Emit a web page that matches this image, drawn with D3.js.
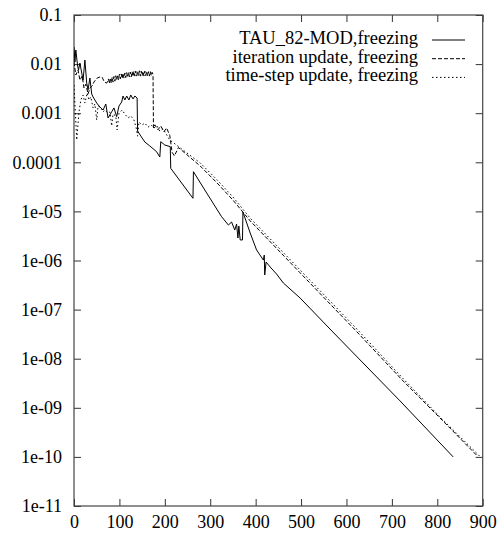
<!DOCTYPE html>
<html>
<head>
<meta charset="utf-8">
<script src="https://cdn.jsdelivr.net/npm/d3@7"></script>
<style>
  body { margin: 0; background: #fff; }
  text { font-family: "Liberation Serif", "Times New Roman", serif; }
</style>
</head>
<body>
<div id="chart"></div>
<script>
// residual history, [iteration, residual]
var tauMod = [
    [0, 0.0223], [2, 0.011], [4, 0.0194], [8, 0.0091], [10, 0.0076], [13, 0.0105],
    [20, 0.0047], [24, 0.0121], [28, 0.0041], [31, 0.0030], [35, 0.0052], [39, 0.00246],
    [42, 0.00214], [50, 0.00161], [57, 0.00134], [64, 0.00116], [70, 0.00154], [75, 0.0008],
    [83, 0.00107], [88, 0.00128], [94, 0.00085], [99, 0.0014], [105, 0.00169], [108, 0.00224],
    [112, 0.00186], [116, 0.00224], [121, 0.00186], [125, 0.00235], [130, 0.00195], [134, 0.00224],
    [139, 0.00204], [140, 0.000434], [147, 0.000344], [156, 0.000259], [167, 0.000215],
    [182, 0.000164], [189, 0.000128], [191, 0.000263], [200, 0.000225], [212, 0.000208],
    [213, 7.55e-5], [262, 1.85e-5], [263, 6.44e-5], [288, 2.73e-5], [325, 7.8e-6],
    [340, 5.28e-6], [347, 6.08e-6], [354, 4.18e-6], [358, 5.53e-6], [361, 2.87e-6],
    [363, 5.04e-6], [366, 2.62e-6], [371, 2.62e-6], [372, 9.7e-6], [388, 3.63e-6],
    [402, 1.64e-6], [417, 1.02e-6], [419, 1.29e-6], [420, 5.07e-7], [423, 9.3e-7],
    [432, 7.37e-7], [446, 5.31e-7], [461, 3.48e-7], [498, 1.72e-7], [568, 3.66e-8],
    [718, 1.38e-9], [835, 1.0e-10]
];

var iterUpdate = [
    [0, 0.011], [4, 0.006], [9, 0.0076], [13, 0.0047], [18, 0.0057], [22, 0.00326],
    [26, 0.0039], [31, 0.00246], [35, 0.00326], [40, 0.00358], [44, 0.00432], [51, 0.0052],
    [57, 0.00546], [62, 0.0054], [67, 0.0043], [72, 0.0041], [75, 0.0047],
    [76, 0.0050], [78, 0.0040], [80, 0.0052], [82, 0.0041], [84, 0.0054], [86, 0.0043],
    [88, 0.0056], [90, 0.0045], [92, 0.0058], [94, 0.0047], [96, 0.0060], [98, 0.0048],
    [100, 0.0062], [102, 0.0050], [104, 0.0063], [106, 0.0051], [108, 0.0065], [110, 0.0052],
    [112, 0.0066], [114, 0.0053], [116, 0.0067], [118, 0.0054], [120, 0.0068], [122, 0.0055],
    [124, 0.0069], [126, 0.0055], [128, 0.0070], [130, 0.0056], [132, 0.0071], [134, 0.0057],
    [136, 0.0072], [138, 0.0057], [140, 0.0071], [142, 0.0058], [144, 0.0073], [146, 0.0057],
    [148, 0.0072], [150, 0.0058], [152, 0.0071], [154, 0.0057], [156, 0.0072], [158, 0.0058],
    [160, 0.0071], [162, 0.0057], [164, 0.0070], [166, 0.0057], [168, 0.0071], [170, 0.0058],
    [172, 0.0068], [174, 0.0062],
    [175, 0.0005], [178, 0.00058], [185, 0.00046], [191, 0.00055], [198, 0.00042],
    [204, 0.0005], [211, 0.00035], [216, 0.00016], [221, 0.000135], [230, 0.0002],
    [244, 0.000155], [278, 8.4e-5], [315, 3.8e-5], [350, 1.7e-5], [388, 6.4e-6],
    [498, 5.6e-7], [619, 3.85e-8], [725, 3.5e-9], [806, 6.2e-10], [888, 1.05e-10]
];

var timeStep = [
    [0, 0.00375], [6, 0.000285], [11, 0.00106], [15, 0.00186], [20, 0.00235], [24, 0.00161],
    [29, 0.00258], [33, 0.00186], [37, 0.00214], [42, 0.00128], [46, 0.00154], [50, 0.00073],
    [53, 0.0014], [60, 0.00128], [64, 0.00106], [68, 0.00116], [75, 0.001], [79, 0.00106],
    [83, 0.00055], [86, 0.00096], [92, 0.00088], [95, 0.000455], [99, 0.001], [106, 0.00116],
    [112, 0.00096], [119, 0.0008], [125, 0.00088], [132, 0.00073], [137, 0.0005], [140, 0.00034],
    [143, 0.00066], [150, 0.000575], [156, 0.00063], [163, 0.00052], [170, 0.000575],
    [176, 0.0005], [183, 0.00055], [189, 0.00043], [196, 0.00048], [203, 0.000377],
    [211, 0.000285], [240, 0.000178], [278, 9.7e-5], [315, 4.4e-5], [350, 1.96e-5],
    [388, 7.3e-6], [498, 6.4e-7], [619, 4.4e-8], [725, 3.9e-9], [806, 6.5e-10], [895, 1.0e-10]
];

var seriesNames = ["TAU_82-MOD,freezing", "iteration update, freezing", "time-step update, freezing"];
var seriesDash = ["none", "4,2", "1.5,2.5"];

var xTicks = [0, 100, 200, 300, 400, 500, 600, 700, 800, 900];
var yTicks = [0.1, 0.01, 0.001, 0.0001, 1e-5, 1e-6, 1e-7, 1e-8, 1e-9, 1e-10, 1e-11];
var yTickLabels = ["0.1", "0.01", "0.001", "0.0001", "1e-05", "1e-06", "1e-07",
                   "1e-08", "1e-09", "1e-10", "1e-11"];

var width = 499, height = 538;
var plotLeft = 74, plotRight = 482.7, plotTop = 15, plotBottom = 506;

var svg = d3.select("#chart")
    .append("svg")
    .attr("width", width)
    .attr("height", height);

var xScale = d3.scaleLinear().domain([0, 900]).range([plotLeft, plotRight]);
var yScale = d3.scaleLog().domain([1e-11, 0.1]).range([plotBottom, plotTop]);

svg.append("clipPath").attr("id", "plot-clip")
    .append("rect")
    .attr("x", plotLeft).attr("y", plotTop)
    .attr("width", plotRight - plotLeft).attr("height", plotBottom - plotTop);

// axes, ticks point inward
function styleAxis(g) {
    g.select(".domain").remove();
    g.selectAll(".tick line").attr("stroke", "#333").attr("stroke-width", 1);
    g.selectAll(".tick text")
        .attr("fill", "#000")
        .style("font-family", "'Liberation Serif', serif")
        .style("font-size", "18px");
}

svg.append("g")
    .attr("transform", "translate(0," + plotBottom + ")")
    .call(d3.axisBottom(xScale).tickValues(xTicks).tickSize(-7).tickPadding(9)
        .tickFormat(d3.format("d")))
    .call(styleAxis);

svg.append("g")
    .attr("transform", "translate(0," + plotTop + ")")
    .call(d3.axisTop(xScale).tickValues(xTicks).tickSize(-7).tickFormat(""))
    .call(styleAxis);

svg.append("g")
    .attr("transform", "translate(" + plotLeft + ",0)")
    .call(d3.axisLeft(yScale).tickValues(yTicks).tickSize(-7).tickPadding(12)
        .tickFormat(function(d, i) { return yTickLabels[i]; }))
    .call(styleAxis);

svg.append("g")
    .attr("transform", "translate(" + plotRight + ",0)")
    .call(d3.axisRight(yScale).tickValues(yTicks).tickSize(-7).tickFormat(""))
    .call(styleAxis);

svg.append("rect")
    .attr("x", plotLeft).attr("y", plotTop)
    .attr("width", plotRight - plotLeft).attr("height", plotBottom - plotTop)
    .attr("fill", "none")
    .attr("stroke", "#444")
    .attr("stroke-width", 1.2);

var line = d3.line()
    .x(function(d) { return xScale(d[0]); })
    .y(function(d) { return yScale(d[1]); });

var plot = svg.append("g").attr("clip-path", "url(#plot-clip)");

[tauMod, iterUpdate, timeStep].forEach(function(series, i) {
    plot.append("path")
        .datum(series)
        .attr("d", line)
        .attr("fill", "none")
        .attr("stroke", "#000")
        .attr("stroke-width", 1)
        .attr("stroke-dasharray", seriesDash[i]);
});

// legend
var legend = svg.append("g");
seriesNames.forEach(function(name, i) {
    var yy = 40 + i * 18.7;
    legend.append("text")
        .attr("x", 418)
        .attr("y", yy + 4)
        .attr("text-anchor", "end")
        .style("font-size", "18.5px")
        .text(name);
    legend.append("line")
        .attr("x1", 432).attr("x2", 465)
        .attr("y1", yy).attr("y2", yy)
        .attr("stroke", "#000")
        .attr("stroke-width", 1)
        .attr("stroke-dasharray", seriesDash[i]);
});
</script>
</body>
</html>
